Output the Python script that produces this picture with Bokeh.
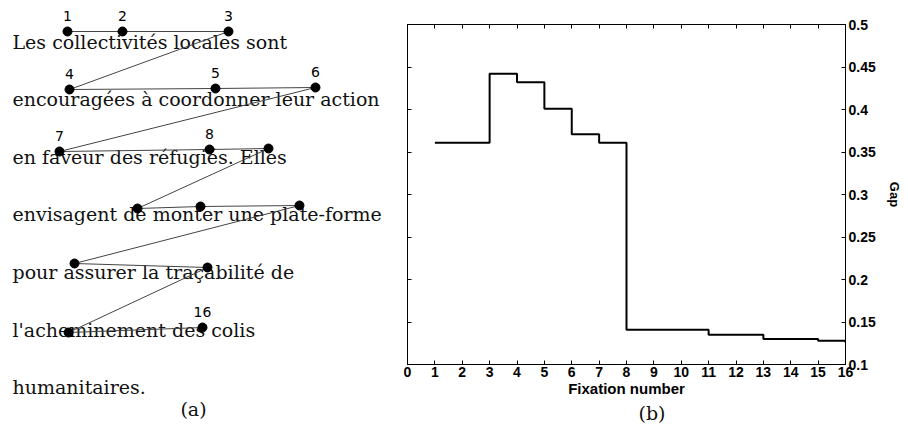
from bokeh.plotting import figure
from bokeh.layouts import row, column
from bokeh.models import Range1d, LinearAxis, FixedTicker, Title, ColumnDataSource, CustomJSTickFormatter
from bokeh.core.properties import value
from bokeh.embed import file_html
from bokeh.resources import INLINE

# ---- panel (a): reading text and scanpath (screen pixel coordinates) ----
text_lines = [
    "Les collectivités locales sont",
    "encouragées à coordonner leur action",
    "en faveur des réfugiés. Elles",
    "envisagent de monter une plate-forme",
    "pour assurer la traçabilité de",
    "l'acheminement des colis",
    "humanitaires.",
]
line_baselines = [41, 98, 156, 213, 271, 329, 386]
line_x = [12, 12, 12, 12, 12, 12, 12]

fix_x = [67, 122, 228, 69, 215, 315, 59, 209, 268, 137, 200, 299, 74, 207, 68, 202]
fix_y = [31, 31, 31, 89, 88, 87, 151, 149, 148, 208, 206, 205, 263, 267, 332, 327]
fix_labels = ["1", "2", "3", "4", "5", "6", "7", "8", "", "", "", "", "", "", "", "16"]

# ---- panel (b): gap per fixation number ----
fixation_num = [1, 3, 4, 5, 6, 7, 8, 11, 13, 15, 16]
gap = [0.361, 0.442, 0.432, 0.401, 0.371, 0.361, 0.141, 0.135, 0.130, 0.128, 0.126]
x_ticks = list(range(0, 17))
y_ticks = [0.1, 0.15, 0.2, 0.25, 0.3, 0.35, 0.4, 0.45, 0.5]

SERIF = value("DejaVu Serif")
SANS = value("DejaVu Sans")
ARIAL = "Liberation Sans"

# ---------------- left figure ----------------
p1 = figure(frame_width=393, frame_height=422, x_range=Range1d(0, 393), y_range=Range1d(422, 0),
            x_axis_type=None, y_axis_type=None, toolbar_location=None,
            output_backend="svg", min_border=0)
p1.grid.visible = False
p1.outline_line_color = None

txt_src = ColumnDataSource(dict(x=line_x, y=line_baselines, t=text_lines))
p1.text(x="x", y="y", text="t", source=txt_src, text_font=SERIF, text_font_size="19px",
        text_baseline="alphabetic", text_align="left", text_color="#111111")

fix_src = ColumnDataSource(dict(x=fix_x, y=fix_y, lab=fix_labels))
p1.line(x="x", y="y", source=fix_src, line_color="#444444", line_width=1)
p1.scatter(x="x", y="y", source=fix_src, size=9, color="black")
p1.text(x="x", y="y", text="lab", source=fix_src, y_offset=-16, text_align="center",
        text_baseline="alphabetic", text_font=SANS, text_font_size="14px", text_color="black")

cap_src = ColumnDataSource(dict(x=[193], y=[408], t=["(a)"]))
p1.text(x="x", y="y", text="t", source=cap_src, text_align="center", text_baseline="alphabetic",
        text_font=SERIF, text_font_size="19px", text_color="#111111")

# ---------------- right figure ----------------
p2 = figure(frame_width=438, frame_height=340, x_range=Range1d(0, 16), y_range=Range1d(0.1, 0.5),
            y_axis_location="right", toolbar_location=None, output_backend="svg",
            min_border_left=14, min_border_right=50, min_border_top=24, min_border_bottom=20)
p2.grid.visible = False
p2.outline_line_color = "black"
p2.background_fill_color = "white"

p2.step(x=fixation_num, y=gap, mode="after", line_color="black", line_width=2)

def style_axis(ax, show_labels):
    ax.major_tick_in = 4
    ax.major_tick_out = 0
    ax.minor_tick_in = 0
    ax.minor_tick_out = 0
    ax.axis_line_color = "black"
    ax.major_tick_line_color = "black"
    if show_labels:
        ax.major_label_text_font = ARIAL
        ax.major_label_text_font_style = "bold"
        ax.major_label_text_font_size = "14px"
        ax.major_label_text_color = "black"
        ax.major_label_standoff = 2
    else:
        ax.formatter = CustomJSTickFormatter(code="return ''")
        ax.major_label_standoff = 0

xb = p2.xaxis[0]
xb.ticker = FixedTicker(ticks=x_ticks)
style_axis(xb, True)
xb.axis_label = "Fixation number"
xb.axis_label_text_font = ARIAL
xb.axis_label_text_font_style = "bold"
xb.axis_label_text_font_size = "15px"
xb.axis_label_text_color = "black"
xb.axis_label_standoff = 0

yr = p2.yaxis[0]
yr.ticker = FixedTicker(ticks=y_ticks)
style_axis(yr, True)
yr.major_label_standoff = 3
yr.axis_label = "Gap"
yr.axis_label_text_font = ARIAL
yr.axis_label_text_font_style = "bold"
yr.axis_label_text_font_size = "13px"
yr.axis_label_text_color = "black"
yr.axis_label_standoff = 8

xt = LinearAxis(ticker=FixedTicker(ticks=x_ticks))
style_axis(xt, False)
p2.add_layout(xt, "above")

yl = LinearAxis(ticker=FixedTicker(ticks=y_ticks))
style_axis(yl, False)
p2.add_layout(yl, "left")

p2.add_layout(Title(text="(b)", align="left", offset=231, text_font="DejaVu Serif",
                    text_font_size="19px", text_font_style="normal", text_color="#111111",
                    standoff=0), "below")

layout = row(p1, column(p2))
open("out.html", "w").write(file_html(layout, INLINE))
